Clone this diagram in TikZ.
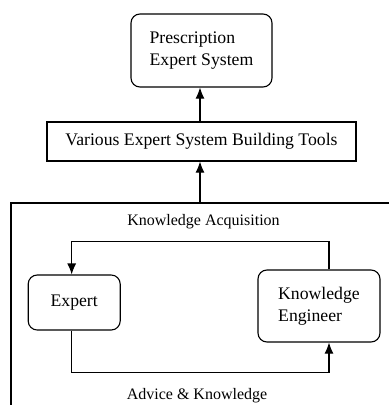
\documentclass[tikz,border=0pt]{standalone}
\usepackage{fontspec}
\setmainfont{Liberation Serif}
\usetikzlibrary{calc,arrows.meta}

\begin{document}
\begin{tikzpicture} [x=1pt,y=-1pt,
  module/.style=
  {rectangle,rounded corners=9pt,draw=black,line width=1.1pt,
    inner sep=0pt,align=left,font=\fontsize{17.7}{22}\selectfont},
  outil/.style=
  {rectangle,draw=black,line width=1.1pt,inner sep=0pt,
    font=\fontsize{17.7}{22}\selectfont},
  legende/.style={anchor=base,inner sep=0pt,font=\fontsize{16}{19}\selectfont},
  fleche/.style={-{Latex[length=11pt,width=9pt]},line width=1.1pt}]
\useasboundingbox (0,0) rectangle (389,405);
\node [module,minimum width=141pt,minimum height=73pt] (presc) at (201.5,50.5) {Prescription\\Expert System};
\node [outil,minimum width=309pt,minimum height=39pt] (tools) at (201.5,141.5) {Various Expert System Building Tools};
\node [module,minimum width=92pt,minimum height=55pt] (expert) at (74.2,302.5) {Expert};
\node [module,minimum width=122pt,minimum height=72pt] (engineer) at (319,306) {Knowledge\\Engineer};
\node [legende] (acq) at (203.5,225) {Knowledge Acquisition};
\node [legende] (advice) at (197,399) {Advice \& Knowledge};
\coordinate (frameTop) at (200,203);
\draw [line width=1.1pt] (11,405) -- (11,203) -- (389,203);
\draw [fleche] ($(tools.north)+(-1.5,0)$) -- ($(presc.south)+(-1.5,0)$);
\draw [fleche] (frameTop) -- (frameTop |- tools.south);
\draw [fleche] ($(engineer.north)+(10,0)$) -- ++(0,-28) -| ($(expert.north)+(-2.5,0)$);
\draw [fleche] ($(expert.south)+(-2.5,0)$) -- ++(0,42) -| ($(engineer.south)+(10,0)$);

\end{tikzpicture}
\end{document}
